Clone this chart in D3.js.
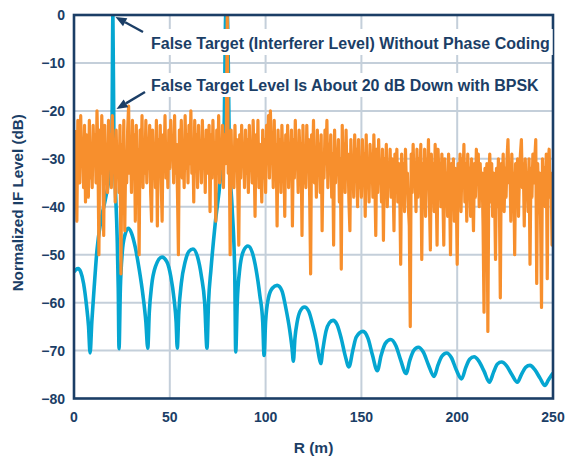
<!DOCTYPE html>
<html>
<head>
<meta charset="utf-8">
<script src="https://cdn.jsdelivr.net/npm/d3@7"></script>
<style>
  html, body { margin: 0; padding: 0; background: #ffffff; }
  svg { display: block; font-family: "Liberation Sans", Arial, Helvetica, sans-serif; }
</style>
</head>
<body>
<svg id="chart" width="565" height="459"></svg>
<script>
// Axis ticks
const xTicks = [0, 50, 100, 150, 200, 250];
const yTicks = [0, -10, -20, -30, -40, -50, -60, -70, -80];

// Range response without phase coding: [range (m), level (dB)]
const noCodingRange = [
  0, 1, 2.2, 3.5, 5, 6.5, 7.6, 8.4, 9.3, 10.5, 12, 14, 16.3, 18, 19, 19.8, 20.3, 20.8, 21.6, 22.5, 23.1, 23.5,
  24.2, 25.2, 26.5, 28.3, 30, 32, 34, 36, 37.5, 38.5,
  39.3, 40.5, 42.5, 45.9, 48.5, 50.5, 52.3, 53.3, 53.9,
  54.7, 56, 58, 60, 62.1, 64.5, 66.5, 68.2, 69.4,
  70.2, 71.5, 73.7, 76.3, 78.4, 79.2, 80.0, 81.2, 82.5, 83.9, 84.4,
  85.2, 86.5, 88.5, 90.8, 93, 95, 97, 98.5, 99.2,
  100, 101.5, 103.5, 106, 108.5, 110.5, 112.5, 113.8, 114.5,
  115.3, 116.5, 118, 120.3, 122.5, 124.5, 126.5, 128, 128.8,
  129.8, 131.5, 133.3, 135.2, 137.2, 139.5, 141.5, 143.5,
  145.5, 147.3, 150.8, 153.5, 155.8, 158.3,
  160.3, 162.5, 165.3, 168, 170.5, 173.3,
  175.3, 177.3, 179.7, 182.3, 185, 187.9,
  190, 192, 194.5, 197, 199.5, 202.3,
  204.5, 206.5, 208.8, 211.3, 214, 216.8,
  219, 221, 223.2, 225.8, 228.5, 231.4,
  233.5, 235.7, 238, 240.5, 243.3, 245.8,
  247.5, 250
];
const noCodingLevel = [
  -53.6, -53.1, -52.9, -53.6, -56, -60.5, -65, -70.5, -64, -57, -49, -43, -38.6, -35, -32, -25, 0, -25, -36, -46, -57, -69.6,
  -57, -49.5, -46, -44.5, -45.5, -48.5, -53, -58.5, -64, -69.5,
  -62, -56.5, -52.5, -50.5, -51.5, -54.5, -59.5, -64, -69.5,
  -62, -56, -51.5, -49.3, -48.8, -50.5, -54.5, -60, -69.5,
  -60, -53, -43.5, -34.5, -22.5, 0, 0, -30, -40, -54, -70.3,
  -60, -53, -49.2, -48.2, -49.5, -53, -58.5, -64, -71,
  -64, -59, -57, -56.4, -57.5, -61, -65.5, -69.5, -72.2,
  -67.5, -64, -61.8, -60.9, -61.8, -64.5, -68, -71.5, -72.7,
  -70, -66, -64.2, -63.7, -64.5, -67.5, -71, -73.4,
  -70, -67.2, -66, -67.5, -71, -74.2,
  -71, -68.5, -67.7, -69, -72, -74.8,
  -72, -70, -69.3, -70.3, -73, -75.4,
  -73, -71.2, -70.5, -71.5, -74, -75.9,
  -73.5, -71.8, -71.3, -72.2, -74.3, -76.6,
  -74.5, -72.8, -72.4, -73.2, -75, -76.6,
  -75, -73.5, -73.1, -74, -75.8, -77.3,
  -76.2, -74.7
];

// Range response with BPSK coding, sampled every 0.5 m from 0.5 m to 250 m (dB)
const bpskStart = 0.5;
const bpskStep = 0.5;
const bpskLevel = [
  -24,-33,-43,-22,-30,-35,-21,-31,-26,-36,-23,-39,-25,-33,-38,-22,-34,-27,-36,-23,
  -31,-25,-35,-20,-29,-50,-24,-33,-21,-30,-46,-23,-35,-27,-37,-22,-32,-25,-36,-21,
  -30,-26,-39,-24,-33,-28,-37,-23,-54,-27,-34,-22,-45,-29,-35,-24,-19,-33,-26,-37,
  -22,-31,-25,-43,-23,-34,-28,-50,-24,-32,-21,-36,-27,-33,-22,-35,-26,-30,-23,-37,
  -43,-24,-32,-27,-36,-22,-44,-26,-33,-23,-35,-43,-25,-31,-21,-34,-28,-36,-24,-32,
  -22,-30,-26,-35,-21,-33,-27,-37,-50,-24,-31,-22,-34,-28,-36,-21,-32,-25,-35,-23,
  -31,-20,-33,-26,-39,-22,-30,-25,-36,-23,-32,-27,-35,-22,-31,-26,-37,-24,-33,-28,
  -23,-41,-25,-34,-22,-31,-27,-43,-24,-33,-21,-35,-26,-32,-23,-36,-25,-31,-24,0,
  -33,-27,-50,-24,-35,-29,-36,-23,-32,-26,-37,-48,-25,-34,-23,-31,-27,-36,-24,-33,
  -26,-37,-23,-32,-28,-35,-22,-30,-42,-25,-33,-22,-36,-27,-31,-39,-24,-34,-26,-37,
  -23,-31,-21,-34,-20,-29,-25,-36,-22,-33,-27,-44,-24,-32,-26,-37,-23,-30,-28,-42,
  -25,-33,-23,-36,-27,-31,-24,-44,-26,-34,-22,-32,-28,-37,-24,-30,-27,-46,-23,-35,
  -28,-36,-23,-32,-26,-38,-54,-25,-33,-22,-35,-28,-38,-24,-31,-27,-37,-25,-45,-29,
  -34,-24,-31,-22,-36,-27,-33,-25,-38,-29,-48,-24,-35,-28,-32,-26,-39,-30,-53,-23,
  -33,-27,-37,-24,-34,-29,-39,-45,-26,-35,-30,-38,-25,-33,-28,-40,-26,-36,-31,-38,
  -26,-34,-29,-42,-25,-36,-30,-39,-27,-33,-29,-38,-25,-34,-46,-28,-37,-26,-35,-31,
  -39,-28,-47,-30,-36,-27,-40,-31,-35,-28,-38,-30,-34,-45,-29,-37,-28,-39,-31,-36,
  -52,-29,-38,-31,-41,-28,-36,-33,-40,-44,-65,-29,-37,-27,-35,-32,-41,-28,-38,-30,
  -36,-27,-51,-31,-38,-28,-42,-30,-35,-26,-39,-49,-29,-37,-31,-41,-27,-36,-48,-28,
  -34,-31,-40,-29,-37,-48,-30,-39,-33,-42,-29,-36,-50,-31,-38,-30,-43,-32,-37,-52,
  -31,-38,-29,-41,-30,-35,-27,-39,-31,-43,-29,-36,-32,-42,-30,-37,-45,-31,-38,-28,
  -34,-29,-40,-31,-37,-33,-44,-62,-32,-38,-31,-66,-34,-29,-39,-31,-42,-33,-37,-51,
  -32,-40,-30,-38,-59,-31,-36,-29,-41,-32,-38,-30,-26,-35,-31,-43,-29,-37,-33,-50,
  -31,-38,-30,-42,-33,-29,-26,-36,-31,-44,-30,-37,-33,-41,-30,-52,-32,-38,-29,-35,
  -30,-26,-56,-31,-38,-33,-42,-61,-30,-37,-32,-40,-29,-55,-31,-28,-38,-33,-48,-35
];

// Annotation text
const noteLines = [
  "False Target (Interferer Level) Without Phase Coding",
  "False Target Level Is About 20 dB Down with BPSK"
];

const navy = "#1b3e66";
const gridColor = "#c4cfda";
const blue = "#05a6d1";
const orange = "#f78f2d";

const W = 565, H = 459;
const margin = { top: 15, right: 12, bottom: 60.5, left: 74 };
const innerW = W - margin.left - margin.right;
const innerH = H - margin.top - margin.bottom;

const svg = d3.select("#chart");
const x = d3.scaleLinear().domain([0, 250]).range([margin.left, margin.left + innerW]);
const y = d3.scaleLinear().domain([-80, 0]).range([margin.top + innerH, margin.top]);

svg.append("defs").append("clipPath").attr("id", "plot-clip")
  .append("rect")
  .attr("x", margin.left).attr("y", margin.top)
  .attr("width", innerW).attr("height", innerH);

// Gridlines
const grid = svg.append("g").attr("stroke", gridColor).attr("stroke-width", 2);
grid.selectAll(".gx").data(xTicks.slice(1, -1)).join("line")
  .attr("x1", d => x(d)).attr("x2", d => x(d))
  .attr("y1", margin.top).attr("y2", margin.top + innerH);
grid.selectAll(".gy").data(yTicks.slice(1, -1)).join("line")
  .attr("x1", margin.left).attr("x2", margin.left + innerW)
  .attr("y1", d => y(d)).attr("y2", d => y(d));

// Data lines
const plot = svg.append("g").attr("clip-path", "url(#plot-clip)");

const noCoding = noCodingRange.map((r, i) => [r, noCodingLevel[i]]);
plot.append("path")
  .datum(noCoding)
  .attr("fill", "none")
  .attr("stroke", blue)
  .attr("stroke-width", 3.6)
  .attr("stroke-linejoin", "round")
  .attr("d", d3.line().x(d => x(d[0])).y(d => y(d[1])).curve(d3.curveMonotoneX));

const bpsk = bpskLevel.map((v, i) => [bpskStart + i * bpskStep, v]);
plot.append("path")
  .datum(bpsk)
  .attr("fill", "none")
  .attr("stroke", orange)
  .attr("stroke-width", 3.2)
  .attr("stroke-linejoin", "round")
  .attr("d", d3.line().x(d => x(d[0])).y(d => y(d[1])));

// Frame
svg.append("rect")
  .attr("x", margin.left).attr("y", margin.top)
  .attr("width", innerW).attr("height", innerH)
  .attr("fill", "none").attr("stroke", navy).attr("stroke-width", 2.6);

// Tick labels
svg.append("g").selectAll("text").data(yTicks).join("text")
  .attr("x", margin.left - 9)
  .attr("y", d => y(d))
  .attr("dy", "0.36em")
  .attr("text-anchor", "end")
  .attr("fill", navy)
  .attr("font-size", "14px").attr("font-weight", "bold")
  .text(d => d === 0 ? "0" : "\u2212" + Math.abs(d));

svg.append("g").selectAll("text").data(xTicks).join("text")
  .attr("x", d => x(d))
  .attr("y", margin.top + innerH + 23)
  .attr("text-anchor", "middle")
  .attr("fill", navy)
  .attr("font-size", "14px").attr("font-weight", "bold")
  .text(d => d);

// Axis titles
svg.append("text")
  .attr("x", margin.left + innerW / 2)
  .attr("y", 453)
  .attr("text-anchor", "middle")
  .attr("fill", navy).attr("font-size", "15.5px").attr("font-weight", "bold")
  .text("R (m)");

svg.append("text")
  .attr("transform", `translate(23,${margin.top + innerH / 2 - 4}) rotate(-90)`)
  .attr("text-anchor", "middle")
  .attr("fill", navy).attr("font-size", "15.2px").attr("font-weight", "bold")
  .text("Normalized IF Level (dB)");

// Annotations with white backing
const notes = svg.append("g");
const noteY = [48.5, 90.5];
const boxes = [[29, 55], [73, 97]];
noteLines.forEach((t, i) => {
  const txt = notes.append("text")
    .attr("x", 151).attr("y", noteY[i])
    .attr("fill", navy).attr("font-size", "16px").attr("font-weight", "bold")
    .text(t);
  const w = txt.node().getComputedTextLength();
  notes.insert("rect", "text")
    .attr("x", 147).attr("y", boxes[i][0])
    .attr("width", w + 7).attr("height", boxes[i][1] - boxes[i][0])
    .attr("fill", "#ffffff");
});

// Arrows pointing at the false-target peak
const arrows = [
  { x1: 143, y1: 32, x2: 115.5, y2: 17 },
  { x1: 145, y1: 92, x2: 116.5, y2: 109 }
];
const arrowG = svg.append("g");
arrows.forEach(a => {
  const ang = Math.atan2(a.y2 - a.y1, a.x2 - a.x1);
  const len = 11, half = 4.5;
  const bx = a.x2 - len * Math.cos(ang), by = a.y2 - len * Math.sin(ang);
  arrowG.append("line")
    .attr("x1", a.x1).attr("y1", a.y1).attr("x2", bx).attr("y2", by)
    .attr("stroke", navy).attr("stroke-width", 2.4);
  const px = -Math.sin(ang), py = Math.cos(ang);
  arrowG.append("path")
    .attr("d", `M${a.x2},${a.y2} L${bx + px * half},${by + py * half} L${bx - px * half},${by - py * half} Z`)
    .attr("fill", navy);
});
</script>
</body>
</html>
